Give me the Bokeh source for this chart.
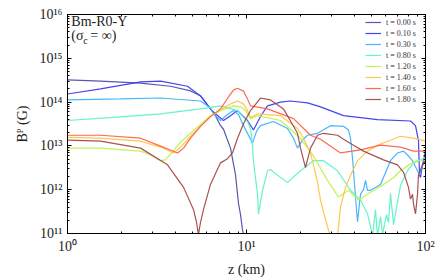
from bokeh.plotting import figure
from bokeh.models import LogAxis, LogTicker, CustomJSTickFormatter, Label
from bokeh.embed import file_html
from bokeh.resources import INLINE

# ---- data ----
z_t000 = [1.0, 1.53, 2.56, 3.76, 4.87, 5.53, 5.90, 6.29, 6.71, 7.16, 7.44, 8.14, 8.68, 9.02, 9.26, 9.50, 9.75]
B_t000 = [3.2e14, 3.0e14, 2.7e14, 2.3e14, 1.8e14, 1.4e14, 1.0e14, 7.0e13, 4.9e13, 2.9e13, 2.4e13, 8.9e12, 2.2e12, 4.9e11, 2.7e11, 1.2e11, 7.7e10]

z_t010 = [1.0, 1.53, 2.56, 3.31, 4.68, 5.53, 6.29, 6.71, 7.44, 8.14, 8.91, 10.13, 10.94, 11.97, 13.10, 15.48, 17.61, 21.92, 25.91, 34.83, 53.94, 82.45, 87.95, 91.40, 92.58, 93.78, 96.21, 100]
B_t010 = [1.53e14, 2.0e14, 2.9e14, 3.0e14, 2.3e14, 1.38e14, 7.0e13, 5.4e13, 3.8e13, 4.9e13, 6.4e13, 3.8e13, 2.3e13, 4.7e13, 8.2e13, 1.0e14, 1.06e14, 9.6e13, 7.8e13, 4.9e13, 4.0e13, 3.7e13, 2.9e13, 1.28e13, 2.2e12, 1.9e12, 3.7e12, 7.6e12]

z_t030 = [1.0, 1.98, 3.31, 5.53, 6.29, 6.54, 7.16, 7.83, 8.46, 9.02, 9.62, 10.26, 10.80, 11.37, 11.97, 14.15, 16.95, 18.31, 19.27, 20.55, 21.92, 24.93, 29.46, 34.83, 37.14, 38.11, 39.10, 40.64, 41.70, 43.35, 45.05, 46.23, 47.43, 49.29, 56.07, 63.77, 69.78, 75.37, 79.34, 84.60, 90.23, 92.58, 96.21, 100]
B_t030 = [1.12e14, 1.18e14, 1.24e14, 1.06e14, 7.4e13, 5.4e13, 3.8e13, 5.2e13, 6.4e13, 5.2e13, 2.9e13, 1.75e13, 1.16e13, 2.15e13, 2.9e13, 3.6e13, 2.5e13, 1.5e13, 8.9e12, 1.35e13, 1.75e13, 1.94e13, 2.9e13, 2.8e13, 2.3e13, 1.5e13, 5.3e12, 6.8e11, 1.86e11, 7.9e11, 1.02e12, 1.63e12, 9.7e11, 9.7e11, 1.32e12, 4.6e12, 6.9e12, 7.6e12, 6.2e12, 4.6e12, 2.7e12, 2.2e12, 3.5e12, 4.6e12]

z_t080 = [1.0, 1.74, 3.31, 5.53, 7.16, 8.91, 10.13, 10.53, 10.80, 10.94, 11.22, 11.52, 11.67, 11.97, 12.29, 13.10, 13.62, 14.52, 16.95, 20.03, 23.67, 26.93, 32.24, 38.11, 43.35, 47.43, 49.29, 50.58, 52.57, 53.94, 56.07, 57.53, 60.55, 62.14, 63.77, 66.28, 69.78, 72.52, 79.34, 85.70, 93.78, 100]
B_t080 = [3.8e13, 4.4e13, 5.4e13, 7.0e13, 8.2e13, 6.4e13, 3.6e13, 2.5e13, 1.04e13, 4.6e12, 1.9e12, 7.9e11, 2.8e11, 5.2e11, 9.7e11, 2.7e12, 2.9e12, 2.3e12, 1.47e12, 2.7e12, 4.6e12, 4.6e12, 2.7e12, 9.7e11, 5.8e11, 2.8e11, 1.44e11, 8.6e10, 3.5e11, 8.6e10, 2.4e11, 9.5e10, 2.7e11, 1.77e11, 8.3e11, 1.59e11, 5.2e11, 1.26e12, 2.7e12, 4.1e12, 4.8e12, 5.3e12]

z_t120 = [1.0, 1.53, 2.56, 2.91, 3.31, 3.53, 3.76, 4.28, 4.87, 5.53, 6.29, 7.16, 8.46, 9.26, 9.87, 10.53, 11.52, 15.48, 20.03, 23.67, 28.35, 32.66, 37.14, 42.24, 49.29, 58.28, 66.28, 72.52, 82.45, 90.23, 100]
B_t120 = [8.9e12, 8.9e12, 7.6e12, 6.2e12, 4.6e12, 4.8e12, 6.5e12, 1.22e13, 1.94e13, 3.08e13, 4.9e13, 6.4e13, 8.2e13, 7.8e13, 6.4e13, 4.2e13, 4.9e13, 3.8e13, 1.5e13, 5.9e12, 1.63e12, 6.8e11, 9.7e11, 5.8e11, 8.7e11, 1.32e12, 1.9e12, 2.7e12, 3.9e12, 4.6e12, 4.8e12]

z_t140 = [1.0, 1.53, 2.56, 3.31, 3.91, 4.28, 4.87, 5.53, 6.29, 7.16, 8.14, 8.91, 9.62, 10.13, 10.53, 11.52, 15.48, 19.27, 20.82, 22.78, 23.67, 24.93, 25.91, 26.93, 28.35, 29.46, 30.62, 32.24, 33.50, 35.74, 38.11, 41.70, 47.43, 53.94, 63.77, 72.52, 85.70, 100]
B_t140 = [1.57e13, 1.5e13, 1.28e13, 9.4e12, 6.9e12, 9.4e12, 1.66e13, 2.8e13, 4.66e13, 6.7e13, 9.1e13, 1.06e14, 9.1e13, 6.4e13, 4.4e13, 5.4e13, 4.9e13, 2.5e13, 1.5e13, 6.9e12, 3.7e12, 1.47e12, 5.8e11, 3.1e11, 1.44e11, 8.6e10, 5e10, 8.6e10, 4.0e11, 1.13e12, 2.1e12, 4.6e12, 7.6e12, 1.04e13, 1.35e13, 1.66e13, 1.5e13, 1.28e13]

z_t160 = [1.0, 1.53, 2.56, 3.31, 4.12, 4.45, 4.87, 5.53, 6.29, 7.16, 7.93, 8.46, 8.91, 9.62, 10.13, 10.53, 13.10, 18.31, 22.78, 25.91, 33.50, 43.35, 56.07, 72.52, 85.70, 100]
B_t160 = [1.75e13, 1.75e13, 1.5e13, 9.9e12, 6.9e12, 8.9e12, 1.5e13, 2.8e13, 4.66e13, 7.0e13, 1.31e14, 1.88e14, 2.08e14, 1.78e14, 1.18e14, 8.2e13, 7.0e13, 4.2e13, 1.75e13, 1.42e13, 6.9e12, 8.1e12, 1.04e13, 9.4e12, 7.6e12, 7.6e12]

z_t180 = [1.0, 1.53, 2.56, 3.62, 4.45, 5.06, 5.26, 5.39, 5.53, 5.75, 6.29, 7.16, 7.83, 8.35, 8.91, 9.62, 10.53, 11.97, 13.62, 16.09, 18.31, 19.27, 20.03, 21.36, 22.78, 24.93, 26.93, 32.24, 34.83, 39.61, 45.05, 58.28, 69.78, 75.37, 80.35, 82.45, 84.60, 85.70, 87.95, 90.23, 91.40, 96.21, 100]
B_t180 = [1.35e13, 1.28e13, 8.9e12, 3.7e12, 1.13e12, 3.5e11, 1.77e11, 9.5e10, 1.77e11, 3.5e11, 1.32e12, 4.1e12, 5.1e12, 6.9e12, 1.5e13, 3.2e13, 6.4e13, 1.24e14, 1.12e14, 7.0e13, 2.8e13, 1.94e13, 8.9e12, 3.2e12, 8.9e12, 1.75e13, 1.94e13, 1.75e13, 1.42e13, 1.04e13, 7.6e12, 4.8e12, 3.7e12, 2.5e12, 1.13e12, 6.1e11, 7.9e11, 4.7e11, 2.8e11, 7.9e11, 2.2e12, 3.7e12, 4.6e12]

series_z = [z_t000, z_t010, z_t030, z_t080, z_t120, z_t140, z_t160, z_t180]
series_B = [B_t000, B_t010, B_t030, B_t080, B_t120, B_t140, B_t160, B_t180]
series_labels = ["t = 0.00 s", "t = 0.10 s", "t = 0.30 s", "t = 0.80 s",
                 "t = 1.20 s", "t = 1.40 s", "t = 1.60 s", "t = 1.80 s"]
series_colors = ["#4e4eaa", "#3a3af2", "#3cb2ff", "#5ef2c6",
                 "#bdf24c", "#ffc444", "#ff6244", "#a64848"]

FONT = "Liberation Serif"

p = figure(width=447, height=279, x_axis_type="log", y_axis_type="log",
           x_range=(1, 100), y_range=(1e11, 1e16),
           output_backend="svg", toolbar_location=None,
           min_border_left=67, min_border_right=22,
           min_border_top=14, min_border_bottom=42)

for zs, bs, lab, col in zip(series_z, series_B, series_labels, series_colors):
    p.line(zs, bs, line_color=col, line_width=1.2, line_alpha=0.95, legend_label=lab)

p.grid.visible = False
p.outline_line_color = "black"
p.outline_line_width = 1

sup_fmt = CustomJSTickFormatter(code="""
const sup = {'0':'\u2070','1':'\u00b9','2':'\u00b2','3':'\u00b3','4':'\u2074','5':'\u2075','6':'\u2076','7':'\u2077','8':'\u2078','9':'\u2079','-':'\u207b'};
const e = Math.round(Math.log10(tick));
return '10' + String(e).split('').map(c => sup[c]).join('');
""")
blank_fmt = CustomJSTickFormatter(code="return '';")

p.xaxis.ticker = LogTicker(desired_num_ticks=3, num_minor_ticks=10)
p.yaxis.ticker = LogTicker(desired_num_ticks=6, num_minor_ticks=10)
p.xaxis.formatter = sup_fmt
p.yaxis.formatter = sup_fmt
p.xaxis.axis_label = "z (km)"
p.yaxis.axis_label = "Bᴾ (G)"

top_ax = LogAxis(ticker=LogTicker(desired_num_ticks=3, num_minor_ticks=10), formatter=blank_fmt)
right_ax = LogAxis(ticker=LogTicker(desired_num_ticks=6, num_minor_ticks=10), formatter=blank_fmt)
p.add_layout(top_ax, "above")
p.add_layout(right_ax, "right")

for ax in p.axis:
    ax.axis_line_color = "black"
    ax.major_tick_in = 4
    ax.major_tick_out = 0
    ax.minor_tick_in = 2
    ax.minor_tick_out = 0
    ax.major_tick_line_color = "black"
    ax.minor_tick_line_color = "black"
    ax.major_label_text_font = FONT
    ax.major_label_text_font_size = "14px"
    ax.major_label_text_color = "#222222"
    ax.axis_label_text_font = FONT
    ax.axis_label_text_font_size = "14px"
    ax.axis_label_text_font_style = "normal"
    ax.axis_label_text_color = "#222222"

p.xaxis[0].major_label_standoff = 4
p.xaxis[0].axis_label_standoff = 1
p.yaxis[0].major_label_standoff = 5
p.yaxis[0].axis_label_standoff = 6
top_ax.major_label_standoff = 0
right_ax.major_label_standoff = 0

# annotation text
p.add_layout(Label(x=1.05, y=4.6e15, text="Bm-R0-Y", text_font=FONT,
                   text_font_size="14px", text_color="#222222"))
p.add_layout(Label(x=1.05, y=2.24e15, text="(σ", text_font=FONT,
                   text_font_size="14px", text_color="#222222"))
p.add_layout(Label(x=1.05, y=2.24e15, x_offset=12, y_offset=-3, text="c", text_font=FONT,
                   text_font_size="10px", text_color="#222222"))
p.add_layout(Label(x=1.05, y=2.24e15, x_offset=19, text="= ∞)", text_font=FONT,
                   text_font_size="14px", text_color="#222222"))

lg = p.legend[0]
lg.location = "top_right"
lg.margin = 1
lg.padding = 2
lg.spacing = 1
lg.label_height = 10
lg.glyph_height = 10
lg.glyph_width = 16
lg.label_width = 36
lg.label_standoff = 5
lg.label_text_font = FONT
lg.label_text_font_size = "8px"
lg.label_text_color = "#333333"
lg.background_fill_alpha = 0
lg.border_line_alpha = 0

open("out.html", "w").write(file_html(p, INLINE))
